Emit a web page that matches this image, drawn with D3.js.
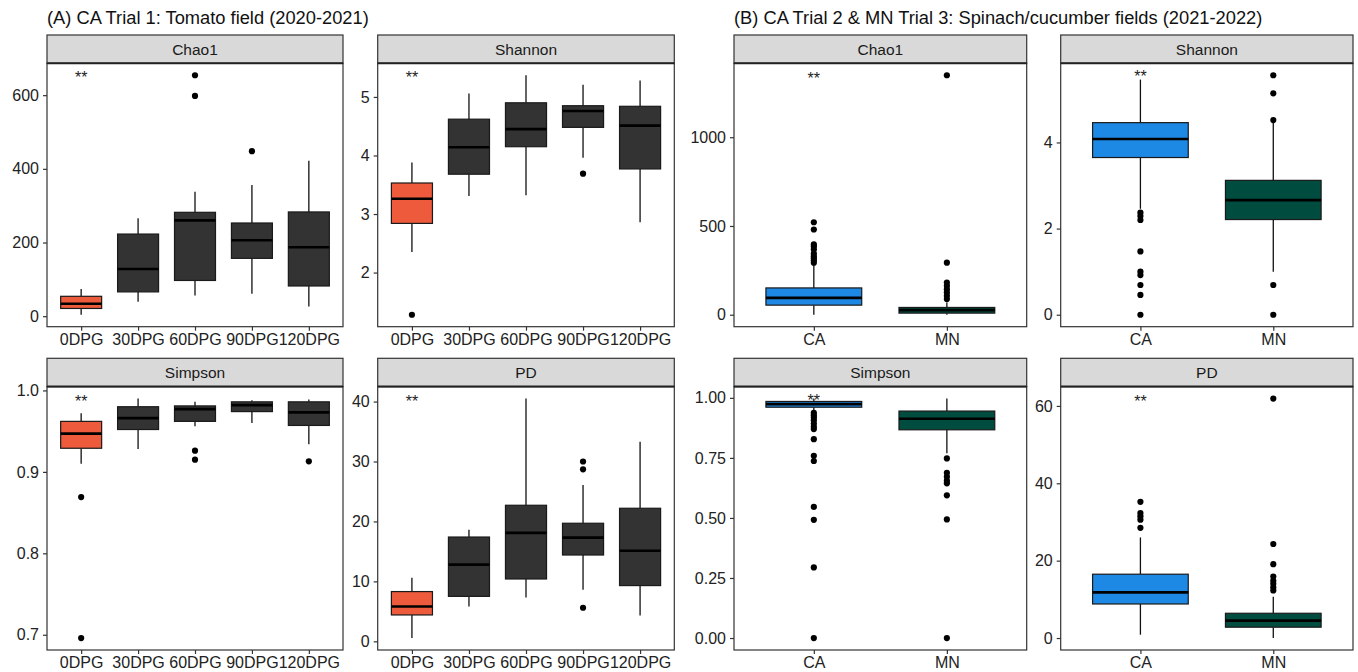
<!DOCTYPE html>
<html><head><meta charset="utf-8">
<script src="https://cdn.jsdelivr.net/npm/d3@7"></script>
<style>
body{margin:0;background:#fff;}
text{font-family:"Liberation Sans",Arial,sans-serif;}
</style></head>
<body><svg id="c" width="1358" height="672"></svg>
<script>
// ---------------- DATA ----------------
const titleA = "(A) CA Trial 1: Tomato field (2020-2021)";
const titleB = "(B) CA Trial 2 & MN Trial 3: Spinach/cucumber fields (2021-2022)";
const dpg = ["0DPG", "30DPG", "60DPG", "90DPG", "120DPG"];
const sites = ["CA", "MN"];
const colorsA = ["#EE5B3C", "#333333", "#333333", "#333333", "#333333"];
const colorsB = ["#1E88E5", "#004D40"];

// box stats: [lower whisker, Q1, median, Q3, upper whisker]
const chaoA = [[4, 21, 34, 54, 74], [39, 66, 128, 223, 266], [56, 97, 260, 282, 338], [61, 157, 206, 253, 356], [26, 82, 187, 283, 422]];
const chaoAOut = [[], [], [598, 654], [448], []];
const shannonA = [[2.35, 2.84, 3.26, 3.53, 3.88], [3.31, 3.68, 4.14, 4.62, 5.06], [3.32, 4.15, 4.45, 4.90, 5.37], [3.96, 4.48, 4.76, 4.85, 5.21], [2.86, 3.77, 4.51, 4.84, 5.28]];
const shannonAOut = [[1.28], [], [], [3.69], []];
const simpsonA = [[0.910, 0.929, 0.947, 0.962, 0.972], [0.928, 0.952, 0.966, 0.980, 0.990], [0.956, 0.962, 0.977, 0.981, 0.986], [0.960, 0.974, 0.982, 0.986, 0.988], [0.934, 0.957, 0.973, 0.986, 0.989]];
const simpsonAOut = [[0.869, 0.696], [], [0.926, 0.915], [], [0.913]];
const pdA = [[0.55, 4.4, 5.8, 8.3, 10.6], [5.8, 7.5, 12.8, 17.4, 18.6], [7.3, 10.4, 18.1, 22.7, 40.5], [8.6, 14.4, 17.3, 19.7, 26.1], [4.3, 9.3, 15.1, 22.2, 33.3]];
const pdAOut = [[], [], [], [30.0, 28.7, 5.6], []];

const chaoB = [[0, 54, 95, 151, 282], [0, 9, 26, 41, 69]];
const chaoBOut = [[293, 305, 318, 330, 345, 368, 385, 396, 480, 521], [88, 107, 125, 144, 163, 181, 293, 1349]];
const shannonB = [[2.46, 3.65, 4.08, 4.46, 5.46], [1.00, 2.21, 2.66, 3.12, 4.45]];
const shannonBOut = [[2.37, 2.29, 2.20, 1.47, 1.00, 0.92, 0.69, 0.46, 0], [4.52, 5.14, 5.56, 0.69, 0]];
const simpsonB = [[0.949, 0.961, 0.974, 0.985, 0.997], [0.769, 0.867, 0.913, 0.945, 0.997]];
const simpsonBOut = [[0.938, 0.928, 0.918, 0.907, 0.893, 0.880, 0.870, 0.828, 0.759, 0.737, 0.546, 0.492, 0.294, 0], [0.748, 0.688, 0.672, 0.655, 0.644, 0.594, 0.494, 0]];
const pdB = [[0.86, 8.8, 11.8, 16.5, 26.0], [0, 2.8, 4.5, 6.4, 10.7]];
const pdBOut = [[35.2, 32.3, 31.5, 30.6, 28.5], [61.9, 24.3, 19.1, 15.9, 14.8, 14.0, 13.1, 12.3]];

const ticksChaoA = [0, 200, 400, 600];
const ticksShannonA = [2, 3, 4, 5];
const ticksSimpsonA = [0.7, 0.8, 0.9, 1.0];
const ticksPdA = [0, 10, 20, 30, 40];
const ticksChaoB = [0, 500, 1000];
const ticksShannonB = [0, 2, 4];
const ticksSimpsonB = [0, 0.25, 0.5, 0.75, 1.0];
const ticksPdB = [0, 20, 40, 60];

const starY = {chaoA: 656, shannonA: 5.38, simpsonA: 0.99, pdA: 40.5, chaoB: 1349, shannonB: 5.59, simpsonB: 1.0, pdB: 61.9};

// ---------------- LAYOUT ----------------
const svg = d3.select("#c");
const colX = [47, 377.7, 734, 1060.7];
const colW = [296, 296.6, 292.7, 292.3];
const rowTop = [35, 358.3];
const stripH = 28.3;
const rowBottom = [326.7, 650];
const tickFont = 16;

svg.append("text").attr("x", 47).attr("y", 23.5).attr("font-size", 18.3).attr("fill", "#111").text(titleA);
svg.append("text").attr("x", 734).attr("y", 23.5).attr("font-size", 18.3).attr("fill", "#111").text(titleB);

function panel(col, row, name, cats, colors, stats, outs, ticks, fmt, star) {
  const x0 = colX[col], w = colW[col];
  const top = rowTop[row] + stripH, bottom = rowBottom[row];
  const g = svg.append("g");
  // y domain with 5% expansion
  const vals = [];
  stats.forEach(s => vals.push(s[0], s[4]));
  outs.forEach(o => o.forEach(v => vals.push(v)));
  const lo = d3.min(vals), hi = d3.max(vals), pad = (hi - lo) * 0.05;
  const y = d3.scaleLinear().domain([lo - pad, hi + pad]).range([bottom, top]);
  const x = d3.scalePoint().domain(cats).range([x0, x0 + w]).padding(0.6);
  const step = x.step();
  const bw = step * 0.72;

  g.append("rect").attr("x", x0).attr("y", top).attr("width", w).attr("height", bottom - top).attr("fill", "#fff");

  cats.forEach((c, i) => {
    const s = stats[i], cx = x(c);
    g.append("line").attr("x1", cx).attr("x2", cx).attr("y1", y(s[3])).attr("y2", y(s[4])).attr("stroke", "#111").attr("stroke-width", 1.3);
    g.append("line").attr("x1", cx).attr("x2", cx).attr("y1", y(s[1])).attr("y2", y(s[0])).attr("stroke", "#111").attr("stroke-width", 1.3);
    g.append("rect").attr("x", cx - bw / 2).attr("y", y(s[3])).attr("width", bw).attr("height", Math.max(0.5, y(s[1]) - y(s[3])))
      .attr("fill", colors[i]).attr("stroke", "#1a1a1a").attr("stroke-width", 1.2);
    g.append("line").attr("x1", cx - bw / 2).attr("x2", cx + bw / 2).attr("y1", y(s[2])).attr("y2", y(s[2])).attr("stroke", "#000").attr("stroke-width", 2.6);
    outs[i].forEach(v => {
      g.append("circle").attr("cx", cx).attr("cy", y(v)).attr("r", 3.1).attr("fill", "#000");
    });
  });

  g.append("text").attr("x", x(cats[0])).attr("y", y(star) + 8.5).attr("text-anchor", "middle").attr("font-size", 16).attr("fill", "#222").text("**");

  g.append("rect").attr("x", x0).attr("y", top).attr("width", w).attr("height", bottom - top).attr("fill", "none").attr("stroke", "#333").attr("stroke-width", 1.2);

  g.append("rect").attr("x", x0).attr("y", rowTop[row]).attr("width", w).attr("height", stripH).attr("fill", "#D9D9D9").attr("stroke", "#333").attr("stroke-width", 1.2);
  g.append("line").attr("x1", x0).attr("x2", x0 + w).attr("y1", top).attr("y2", top).attr("stroke", "#222").attr("stroke-width", 2);
  g.append("text").attr("x", x0 + w / 2).attr("y", rowTop[row] + stripH / 2 + 5.5).attr("text-anchor", "middle").attr("font-size", 15.5).attr("fill", "#1a1a1a").text(name);

  const ya = d3.axisLeft(y).tickValues(ticks).tickFormat(fmt).tickSize(4).tickPadding(4);
  const yg = g.append("g").attr("transform", `translate(${x0},0)`).call(ya);
  yg.select(".domain").remove();
  yg.selectAll("line").attr("stroke", "#333").attr("stroke-width", 1.2);
  yg.selectAll("text").attr("font-size", tickFont).attr("fill", "#222").attr("font-family", "Liberation Sans, Arial, sans-serif");
  const xa = d3.axisBottom(x).tickSize(4).tickPadding(3);
  const xg = g.append("g").attr("transform", `translate(0,${bottom})`).call(xa);
  xg.select(".domain").remove();
  xg.selectAll("line").attr("stroke", "#333").attr("stroke-width", 1.2);
  xg.selectAll("text").attr("font-size", tickFont).attr("fill", "#222").attr("font-family", "Liberation Sans, Arial, sans-serif");
}

const f0 = d3.format("d"), f1 = d3.format(".1f"), f2 = d3.format(".2f");
panel(0, 0, "Chao1", dpg, colorsA, chaoA, chaoAOut, ticksChaoA, f0, starY.chaoA);
panel(1, 0, "Shannon", dpg, colorsA, shannonA, shannonAOut, ticksShannonA, f0, starY.shannonA);
panel(0, 1, "Simpson", dpg, colorsA, simpsonA, simpsonAOut, ticksSimpsonA, f1, starY.simpsonA);
panel(1, 1, "PD", dpg, colorsA, pdA, pdAOut, ticksPdA, f0, starY.pdA);
panel(2, 0, "Chao1", sites, colorsB, chaoB, chaoBOut, ticksChaoB, f0, starY.chaoB);
panel(3, 0, "Shannon", sites, colorsB, shannonB, shannonBOut, ticksShannonB, f0, starY.shannonB);
panel(2, 1, "Simpson", sites, colorsB, simpsonB, simpsonBOut, ticksSimpsonB, f2, starY.simpsonB);
panel(3, 1, "PD", sites, colorsB, pdB, pdBOut, ticksPdB, f0, starY.pdB);
</script></body></html>
